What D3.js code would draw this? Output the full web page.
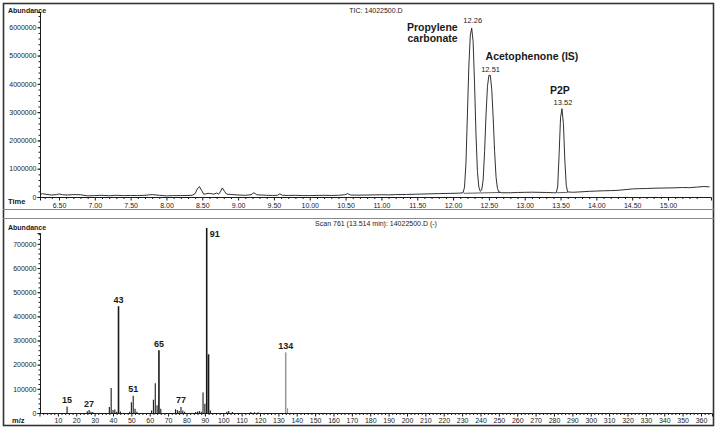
<!DOCTYPE html>
<html>
<head>
<meta charset="utf-8">
<script src="https://cdn.jsdelivr.net/npm/d3@7"></script>
<style>
  body { margin: 0; background: #fff; }
  svg { display: block; font-family: "Liberation Sans", Arial, sans-serif; }
</style>
</head>
<body>
<svg class="chart" width="718" height="429"></svg>
<script>
// TIC chromatogram (time in min, abundance)
const ticTime = [6.24, 6.27, 6.32, 6.40, 6.47, 6.50, 6.55, 6.62, 6.70, 6.80, 6.90, 7.00, 7.10, 7.20, 7.30, 7.40, 7.50, 7.60,
  7.70, 7.80, 7.90, 8.00, 8.10, 8.20, 8.30, 8.36, 8.40, 8.43, 8.46, 8.49, 8.52, 8.55, 8.58, 8.62, 8.66, 8.70, 8.73,
  8.76, 8.78, 8.81, 8.84, 8.90, 9.00, 9.10, 9.18, 9.22, 9.26, 9.32, 9.40, 9.48, 9.55, 9.58, 9.62, 9.70, 9.80, 9.90,
  10.00, 10.10, 10.20, 10.30, 10.40, 10.49, 10.53, 10.57, 10.65, 10.80, 10.90, 11.00, 11.10, 11.20, 11.35, 11.50,
  11.65, 11.80, 11.90, 12.00, 12.08, 12.14, 12.16, 12.18, 12.20, 12.22, 12.24, 12.26, 12.28, 12.30, 12.32, 12.34,
  12.36, 12.38, 12.40, 12.42, 12.44, 12.46, 12.48, 12.50, 12.52, 12.54, 12.56, 12.58, 12.60, 12.62, 12.64, 12.68,
  12.80, 12.90, 13.00, 13.10, 13.20, 13.30, 13.40, 13.44, 13.46, 13.48, 13.50, 13.52, 13.54, 13.56, 13.58, 13.60,
  13.65, 13.70, 13.80, 13.90, 14.00, 14.10, 14.20, 14.30, 14.40, 14.50, 14.60, 14.70, 14.80, 14.90, 15.00, 15.10,
  15.20, 15.30, 15.40, 15.50, 15.58]
const ticAbund = [90000, 120000, 95000, 70000, 85000, 110000, 80000, 70000, 85000, 80000, 40000, 50000, 60000, 45000, 60000, 50000, 55000, 50000,
  60000, 85000, 60000, 40000, 50000, 50000, 55000, 60000, 120000, 280000, 370000, 240000, 100000, 110000, 130000, 120000, 100000, 140000, 100000,
  220000, 320000, 200000, 100000, 90000, 70000, 60000, 80000, 150000, 80000, 70000, 60000, 55000, 60000, 110000, 60000, 55000, 60000, 50000,
  50000, 55000, 60000, 55000, 60000, 80000, 120000, 70000, 65000, 70000, 75000, 80000, 75000, 85000, 90000, 100000,
  110000, 120000, 125000, 130000, 135000, 150000, 350000, 1200000, 2900000, 4600000, 5700000, 5970000, 5500000, 4000000, 2200000, 900000,
  350000, 200000, 250000, 600000, 1600000, 2900000, 3900000, 4300000, 4300000, 3800000, 2800000, 1600000, 700000, 300000, 180000, 150000,
  150000, 160000, 165000, 170000, 165000, 160000, 150000, 150000, 350000, 1500000, 2800000, 3120000, 2600000, 1300000, 400000, 180000,
  170000, 170000, 185000, 200000, 210000, 220000, 225000, 235000, 260000, 285000, 295000, 300000, 310000, 315000, 320000, 325000,
  335000, 330000, 350000, 370000, 360000]

// integration baselines drawn under the labelled peaks
const ticBaseT = [[12.15, 12.66], [13.45, 13.60]]
const ticBaseA = [[130000, 160000], [150000, 165000]]

// labelled peaks
const peakTime = [12.26, 12.51, 13.52]
const peakTop = [5970000, 4300000, 3120000]
const peakName = [['Propylene', 'carbonate'], ['Acetophenone (IS)'], ['P2P']]

// mass spectrum, scan 761
const msMz = [15, 26, 27, 28, 29, 38, 39, 40, 41, 42, 43, 44, 49, 50, 51, 52, 53, 61, 62, 63, 64, 65, 66,
  74, 75, 76, 77, 78, 79, 85, 86, 87, 88, 89, 90, 91, 92, 93, 102, 103, 105, 115, 117, 119, 134, 135]
const msAbund = [27000, 7000, 12000, 5000, 4000, 25000, 103000, 12000, 15000, 5000, 442000, 6000, 5000, 45000, 71000, 18000, 5000,
  10000, 55000, 123000, 32000, 260000, 18000, 15000, 12000, 8000, 25000, 10000, 5000, 4000, 6000, 8000, 5000, 85000, 38000,
  766000, 243000, 10000, 5000, 8000, 4000, 4000, 3000, 3000, 251000, 20000]
const msGray = [134, 135]
const msLabels = [15, 27, 43, 51, 65, 77, 91, 134]

const ticYTicks = [0, 1000000, 2000000, 3000000, 4000000, 5000000, 6000000]
const ticXTicks = [6.5, 7, 7.5, 8, 8.5, 9, 9.5, 10, 10.5, 11, 11.5, 12, 12.5, 13, 13.5, 14, 14.5, 15]
const msYTicks = [0, 100000, 200000, 300000, 400000, 500000, 600000, 700000]
const msXTicks = d3.range(10, 361, 10)

const svg = d3.select('.chart')
const width = +svg.attr('width')
const ink = '#1a1a1a'

svg.append('rect').attr('width', width).attr('height', 429).attr('fill', '#fff')

// ---------- frame ----------
svg.append('rect')
  .attr('x', 3.5).attr('y', 3.5).attr('width', 710).attr('height', 422)
  .attr('fill', 'none').attr('stroke', '#333').attr('stroke-width', 1.6)
svg.append('line').attr('x1', 3).attr('x2', 714).attr('y1', 209.5).attr('y2', 209.5)
  .attr('stroke', '#8a8a8a')
svg.append('line').attr('x1', 3).attr('x2', 714).attr('y1', 218.5).attr('y2', 218.5)
  .attr('stroke', '#8a8a8a')

function styleAxis(g) {
  g.select('.domain').attr('stroke', ink)
  g.selectAll('.tick line').attr('stroke', ink)
  g.selectAll('.tick text').attr('fill', ink).attr('font-size', 7)
}

// ---------- top: TIC ----------
const x1 = d3.scaleLinear().domain([6.235, 15.6]).range([40, 711])
const y1 = d3.scaleLinear().domain([0, 6540000]).range([197, 12])

const minorT = d3.range(6.3, 15.55, 0.1).filter(t => Math.abs(t * 2 - Math.round(t * 2)) > 0.01)
svg.append('g').attr('transform', 'translate(0,197)')
  .call(d3.axisBottom(x1).tickValues(minorT).tickSize(2).tickFormat(''))
  .call(g => g.select('.domain').remove())
  .call(styleAxis)
svg.append('g').attr('transform', 'translate(0,197)')
  .call(d3.axisBottom(x1).tickValues(ticXTicks).tickSize(3.5).tickPadding(2.5).tickFormat(d3.format('.2f')))
  .call(styleAxis)

svg.append('g').attr('transform', 'translate(40,0)')
  .call(d3.axisLeft(y1).tickValues(d3.range(0, 6500001, 200000)).tickSize(1.5).tickFormat(''))
  .call(styleAxis)
svg.append('g').attr('transform', 'translate(40,0)')
  .call(d3.axisLeft(y1).tickValues(ticYTicks).tickSize(2.5).tickPadding(1).tickFormat(d3.format('d')))
  .call(styleAxis)

const ticPts = ticTime.map((t, i) => [t, ticAbund[i]])
svg.append('path')
  .datum(ticPts)
  .attr('fill', 'none').attr('stroke', ink).attr('stroke-width', 0.9)
  .attr('d', d3.line().x(d => x1(d[0])).y(d => y1(d[1])))

ticBaseT.forEach((tt, i) => {
  svg.append('line')
    .attr('x1', x1(tt[0])).attr('x2', x1(tt[1]))
    .attr('y1', y1(ticBaseA[i][0])).attr('y2', y1(ticBaseA[i][1]))
    .attr('stroke', ink).attr('stroke-width', 0.7)
})

// peak time labels
peakTime.forEach((t, i) => {
  svg.append('text')
    .attr('x', x1(t) + 1).attr('y', y1(peakTop[i]) - (i === 0 ? 5 : 3.5))
    .attr('text-anchor', 'middle').attr('font-size', 7.5).attr('fill', ink)
    .text(d3.format('.2f')(t))
})
// compound names
const nameFont = 10.5
svg.append('text')
  .attr('x', x1(peakTime[0]) - 14).attr('y', y1(peakTop[0]) + 2.5)
  .attr('text-anchor', 'end').attr('font-size', nameFont).attr('font-weight', 'bold').attr('fill', ink)
  .selectAll('tspan').data(peakName[0]).join('tspan')
  .attr('x', x1(peakTime[0]) - 14).attr('dy', (d, i) => i ? 11.5 : 0)
  .text(d => d)
svg.append('text')
  .attr('x', x1(peakTime[1]) - 4).attr('y', y1(peakTop[1]) - 15)
  .attr('font-size', nameFont).attr('font-weight', 'bold').attr('fill', ink)
  .text(peakName[1][0])
svg.append('text')
  .attr('x', x1(peakTime[2]) - 2).attr('y', y1(peakTop[2]) - 14.5)
  .attr('text-anchor', 'middle').attr('font-size', nameFont).attr('font-weight', 'bold').attr('fill', ink)
  .text(peakName[2][0])

svg.append('text').attr('x', 8).attr('y', 13).attr('font-size', 7).attr('font-weight', 'bold')
  .attr('fill', ink).text('Abundance')
svg.append('text').attr('x', 8).attr('y', 203.5).attr('font-size', 7.5).attr('font-weight', 'bold')
  .attr('fill', ink).text('Time')
svg.append('text').attr('x', 376).attr('y', 12.5).attr('text-anchor', 'middle').attr('font-size', 7)
  .attr('fill', ink).text('TIC: 14022500.D')

// ---------- bottom: mass spectrum ----------
const x2 = d3.scaleLinear().domain([0, 366]).range([39.5, 712])
const y2 = d3.scaleLinear().domain([0, 745000]).range([413, 233])

svg.append('g').attr('transform', 'translate(0,413)')
  .call(d3.axisBottom(x2).tickValues(d3.range(2, 366, 2).filter(v => v % 10)).tickSize(2).tickFormat(''))
  .call(g => g.select('.domain').remove())
  .call(styleAxis)
svg.append('g').attr('transform', 'translate(0,413)')
  .call(d3.axisBottom(x2).tickValues(msXTicks).tickSize(3.5).tickPadding(1.5).tickFormat(d3.format('d')))
  .call(styleAxis)

svg.append('g').attr('transform', 'translate(40,0)')
  .call(d3.axisLeft(y2).tickValues(d3.range(0, 745001, 20000)).tickSize(1.5).tickFormat(''))
  .call(styleAxis)
svg.append('g').attr('transform', 'translate(40,0)')
  .call(d3.axisLeft(y2).tickValues(msYTicks).tickSize(2.5).tickPadding(1).tickFormat(d3.format('d')))
  .call(styleAxis)

const ms = msMz.map((m, i) => ({ mz: m, ab: msAbund[i] }))
svg.append('g').selectAll('line').data(ms).join('line')
  .attr('x1', d => x2(d.mz)).attr('x2', d => x2(d.mz))
  .attr('y1', y2(0)).attr('y2', d => y2(d.ab))
  .attr('stroke', d => msGray.includes(d.mz) ? '#9a9a9a' : ink)
  .attr('stroke-width', d => d.ab > 200000 ? 1.6 : 1.1)

svg.append('g').selectAll('text').data(ms.filter(d => msLabels.includes(d.mz))).join('text')
  .attr('x', d => d.mz === 91 ? x2(d.mz) + 3 : x2(d.mz))
  .attr('y', d => d.mz === 91 ? 237 : y2(d.ab) - 3.5)
  .attr('text-anchor', d => d.mz === 91 ? 'start' : 'middle')
  .attr('font-size', 9).attr('font-weight', 'bold').attr('fill', ink)
  .text(d => d.mz)

svg.append('text').attr('x', 8).attr('y', 230).attr('font-size', 7).attr('font-weight', 'bold')
  .attr('fill', ink).text('Abundance')
svg.append('text').attr('x', 12).attr('y', 423).attr('font-size', 7.5).attr('font-weight', 'bold')
  .attr('fill', ink).text('m/z')
svg.append('text').attr('x', 376).attr('y', 226).attr('text-anchor', 'middle').attr('font-size', 7)
  .attr('fill', ink).text('Scan 761 (13.514 min): 14022500.D (-)')
</script>
</body>
</html>
